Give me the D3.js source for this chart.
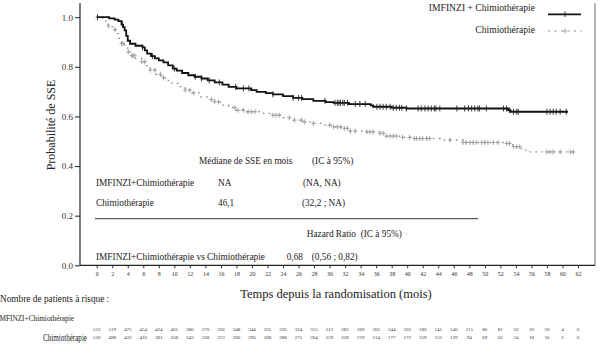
<!DOCTYPE html>
<html><head><meta charset="utf-8">
<script src="https://cdn.jsdelivr.net/npm/d3@7"></script>
<style>
html,body{margin:0;padding:0;background:#fff;}
svg{display:block;font-family:"Liberation Serif","Times New Roman",serif;}
</style></head>
<body><svg id="c" width="605" height="356"></svg>
<script>
// ---- data ----
const series = ["IMFINZI + Chimiothérapie", "Chimiothérapie"];
const armLabels = ["IMFINZI+Chimiothérapie", "Chimiothérapie"];
const xTicks = d3.range(0, 63, 2);
const yTicks = [0, 0.2, 0.4, 0.6, 0.8, 1.0];

const imfTimes = [0,1.6,2.3,2.8,3.2,3.4,3.6,3.8,4.0,4.3,5.0,5.9,6.2,6.5,7.0,7.5,8.0,8.6,9.2,9.8,10.3,11.0,11.8,12.6,13.5,14.3,15.2,16.2,17.0,18.0,19.9,20.6,21.8,22.7,24.0,25.3,26.5,27.9,29.5,30.5,32.5,35.3,35.6,38.0,39.9,53.0,53.3];
const imfSurv  = [1.0,0.995,0.99,0.984,0.97,0.96,0.947,0.925,0.905,0.893,0.885,0.878,0.866,0.853,0.843,0.834,0.826,0.818,0.806,0.793,0.785,0.775,0.766,0.76,0.753,0.745,0.737,0.728,0.719,0.713,0.706,0.699,0.694,0.689,0.682,0.675,0.67,0.663,0.658,0.655,0.65,0.645,0.639,0.635,0.632,0.625,0.619];
const imfEnd = 60.7;
const imfCensor = [0.1,3.3,5.9,7.2,10.0,12.7,13.5,14.5,15.8,17.9,18.9,19.6,22.7,25.3,26.0,26.4,29.4,30.7,31.0,31.2,31.4,31.7,31.9,32.3,33.3,33.9,34.6,36.1,36.5,36.9,37.3,37.8,38.2,38.6,39.0,39.3,39.9,41.4,41.8,42.3,42.7,43.1,43.5,43.7,44.2,46.4,47.4,47.9,48.3,48.7,49.1,49.3,50.2,52.4,52.8,53.2,53.7,54.1,54.3,58.0,58.4,58.8,59.2,59.7,60.5];

const chiTimes = [0,0.8,1.2,1.5,2.0,2.4,2.8,3.2,3.6,4.0,4.5,5.0,5.8,6.3,6.9,7.6,8.3,9.0,9.7,10.5,11.4,12.3,13.2,14.2,15.2,16.1,17.0,17.9,19.0,21.5,22.7,24.0,25.3,26.6,27.9,29.2,30.5,31.5,32.6,34.8,36.5,37.3,39.0,40.8,44.6,47.2,52.8,53.6,54.7,55.4];
const chiSurv  = [1.0,0.99,0.978,0.965,0.95,0.934,0.915,0.894,0.875,0.86,0.845,0.834,0.82,0.805,0.787,0.77,0.756,0.745,0.733,0.72,0.706,0.695,0.679,0.668,0.659,0.646,0.636,0.625,0.619,0.612,0.605,0.595,0.585,0.578,0.572,0.565,0.558,0.552,0.541,0.538,0.532,0.521,0.516,0.511,0.505,0.495,0.491,0.478,0.464,0.457];
const chiEnd = 61.4;
const chiCensor = [0.1,1.5,2.35,3.2,3.4,4.07,4.5,4.7,4.9,5.8,6.2,6.9,7.5,8.2,8.6,11.4,12.0,12.5,14.8,15.2,15.7,17.8,18.2,18.9,19.5,19.9,20.4,22.7,23.1,23.5,24.8,25.5,26.4,26.8,27.9,30.0,30.5,31.0,31.4,31.9,32.3,32.7,33.3,34.8,35.2,35.6,36.5,36.9,37.3,37.8,38.2,38.6,39.4,40.3,40.9,41.2,41.6,42.0,42.5,42.9,45.5,47.2,47.6,48.1,48.5,48.9,49.6,50.0,50.4,51.1,51.7,52.8,53.2,53.7,54.1,54.5,58.0,58.4,58.8,59.7,61.0,61.4];

const riskImf = [533,519,475,454,424,401,386,370,356,348,344,335,330,324,315,312,282,269,265,244,202,180,141,140,115,86,81,32,20,20,4,0];
const riskChi = [530,498,432,416,381,358,343,328,313,300,296,288,288,275,264,259,228,219,214,177,172,159,152,129,94,69,62,24,18,16,2,0];

const tableHeader = ["Médiane de SSE en mois", "(IC à 95%)"];
const medians = ["NA", "46,1"];
const medianCI = ["(NA, NA)", "(32,2 ; NA)"];
const hrHeader = "Hazard Ratio  (IC à 95%)";
const hrLabel = "IMFINZI+Chimiothérapie vs Chimiothérapie";
const hrValue = "0,68";
const hrCI = "(0,56 ; 0,82)";

// ---- drawing ----
const svg = d3.select("#c");
const x = d3.scaleLinear().domain([0, 62]).range([96.7, 578]);
const y = d3.scaleLinear().domain([0, 1]).range([265.3, 17.2]);
const axisLeftX = 80, axisRightX = 595, axisTopY = 3;

// axes frame
svg.append("line").attr("x1", axisLeftX).attr("x2", axisLeftX).attr("y1", axisTopY).attr("y2", y(0)).attr("stroke", "#222").attr("stroke-width", 1.2);
svg.append("line").attr("x1", axisRightX).attr("x2", axisRightX).attr("y1", axisTopY).attr("y2", y(0)).attr("stroke", "#666").attr("stroke-width", 1);
svg.append("line").attr("x1", axisLeftX).attr("x2", axisRightX).attr("y1", y(0)).attr("y2", y(0)).attr("stroke", "#222").attr("stroke-width", 1.2);

// y axis
const gy = svg.append("g").attr("transform", `translate(${axisLeftX},0)`)
  .call(d3.axisLeft(y).tickValues(yTicks).tickFormat(d3.format(".1f")).tickSize(5).tickPadding(2));
gy.select(".domain").remove();
gy.selectAll("line").attr("stroke", "#222");
gy.selectAll("text").attr("font-size", 9).attr("fill", "#333").attr("font-family", "Liberation Serif, serif");

// x axis
const gx = svg.append("g").attr("transform", `translate(0,${y(0)})`)
  .call(d3.axisBottom(x).tickValues(xTicks).tickFormat(d3.format("d")).tickSize(3).tickPadding(3));
gx.select(".domain").remove();
gx.selectAll("line").attr("stroke", "#333");
gx.selectAll("text").attr("font-size", 6).attr("fill", "#333").attr("font-family", "Liberation Serif, serif");

// axis titles
svg.append("text").attr("transform", "translate(55,125) rotate(-90)").attr("text-anchor", "middle")
  .attr("font-size", 12).attr("fill", "#222").text("Probabilité de SSE");
svg.append("text").attr("x", 336).attr("y", 297.5).attr("text-anchor", "middle")
  .attr("font-size", 12.5).attr("fill", "#222").text("Temps depuis la randomisation (mois)");

// curves
function stepData(times, surv, end) {
  const d = times.map((t, i) => [t, surv[i]]);
  d.push([end, surv[surv.length - 1]]);
  return d;
}
function survAt(times, surv, t) {
  const i = d3.bisectRight(times, t) - 1;
  return surv[Math.max(0, i)];
}
const line = d3.line().x(d => x(d[0])).y(d => y(d[1])).curve(d3.curveStepAfter);

// chimio (gray dotted)
svg.append("path").datum(stepData(chiTimes, chiSurv, chiEnd)).attr("d", line)
  .attr("fill", "none").attr("stroke", "#8a8a8a").attr("stroke-width", 1.3).attr("stroke-dasharray", "1.6,4.5");
svg.append("g").selectAll("path").data(chiCensor).join("path")
  .attr("d", t => { const cx = x(t), cy = y(survAt(chiTimes, chiSurv, t)); return `M${cx},${cy-2.5}V${cy+2.5}M${cx-2},${cy}H${cx+2}`; })
  .attr("stroke", "#9a9a9a").attr("stroke-width", 0.9).attr("fill", "none");

// imfinzi (black)
svg.append("path").datum(stepData(imfTimes, imfSurv, imfEnd)).attr("d", line)
  .attr("fill", "none").attr("stroke", "#111").attr("stroke-width", 1.8);
svg.append("g").selectAll("path").data(imfCensor).join("path")
  .attr("d", t => { const cx = x(t), cy = y(survAt(imfTimes, imfSurv, t)); return `M${cx},${cy-3}V${cy+3}`; })
  .attr("stroke", "#222").attr("stroke-width", 0.9).attr("fill", "none");

// legend
svg.append("text").attr("x", 535).attr("y", 10.5).attr("text-anchor", "end").attr("font-size", 9.6).attr("fill", "#222").text(series[0]);
svg.append("text").attr("x", 535).attr("y", 32.5).attr("text-anchor", "end").attr("font-size", 9.6).attr("fill", "#222").text(series[1]);
svg.append("line").attr("x1", 548).attr("x2", 581).attr("y1", 14.3).attr("y2", 14.3).attr("stroke", "#111").attr("stroke-width", 1.8);
svg.append("line").attr("x1", 565).attr("x2", 565).attr("y1", 11.5).attr("y2", 17).attr("stroke", "#222").attr("stroke-width", 0.9);
svg.append("line").attr("x1", 548).attr("x2", 582).attr("y1", 31).attr("y2", 31).attr("stroke", "#8a8a8a").attr("stroke-width", 1.2).attr("stroke-dasharray", "2,4.5");
svg.append("path").attr("d", "M565,28.5V33.5M563,31H567").attr("stroke", "#9a9a9a").attr("stroke-width", 0.9);

// stats table
const tf = 9.3;
const tbl = svg.append("g").attr("font-size", tf).attr("fill", "#222");
tbl.append("text").attr("x", 199).attr("y", 164).text(tableHeader[0]);
tbl.append("text").attr("x", 312).attr("y", 164).text(tableHeader[1]);
armLabels.forEach((lab, i) => {
  const yy = i === 0 ? 186.3 : 206;
  tbl.append("text").attr("x", 96).attr("y", yy).text(lab);
  tbl.append("text").attr("x", 218).attr("y", yy).text(medians[i]);
  tbl.append("text").attr("x", i === 0 ? 303 : 302).attr("y", yy).text(medianCI[i]);
});
svg.append("line").attr("x1", 95).attr("x2", 478).attr("y1", 218.7).attr("y2", 218.7).attr("stroke", "#333").attr("stroke-width", 1);
tbl.append("text").attr("x", 306.7).attr("y", 237.3).attr("xml:space", "preserve").style("white-space", "pre").text(hrHeader);
tbl.append("text").attr("x", 96).attr("y", 260).text(hrLabel);
tbl.append("text").attr("x", 286.7).attr("y", 260).text(hrValue);
tbl.append("text").attr("x", 311.7).attr("y", 260).text(hrCI);

// risk table
svg.append("text").attr("x", 0).attr("y", 301.5).attr("font-size", 9.3).attr("fill", "#222").text("Nombre de patients à risque :");
svg.append("text").attr("x", -3).attr("y", 321).attr("font-size", 8).attr("fill", "#222")
  .attr("textLength", 77).attr("lengthAdjust", "spacingAndGlyphs").text(armLabels[0]);
svg.append("text").attr("x", 43).attr("y", 341).attr("font-size", 10.5).attr("fill", "#222")
  .attr("textLength", 44).attr("lengthAdjust", "spacingAndGlyphs").text(armLabels[1]);
svg.append("g").selectAll("text").data(riskImf).join("text")
  .attr("x", (d, i) => x(xTicks[i])).attr("y", 331).attr("text-anchor", "middle")
  .attr("font-size", 5).attr("fill", "#333").text(d => d);
svg.append("g").selectAll("text").data(riskChi).join("text")
  .attr("x", (d, i) => x(xTicks[i])).attr("y", 339.2).attr("text-anchor", "middle")
  .attr("font-size", 5).attr("fill", "#333").text(d => d);
</script></body></html>
